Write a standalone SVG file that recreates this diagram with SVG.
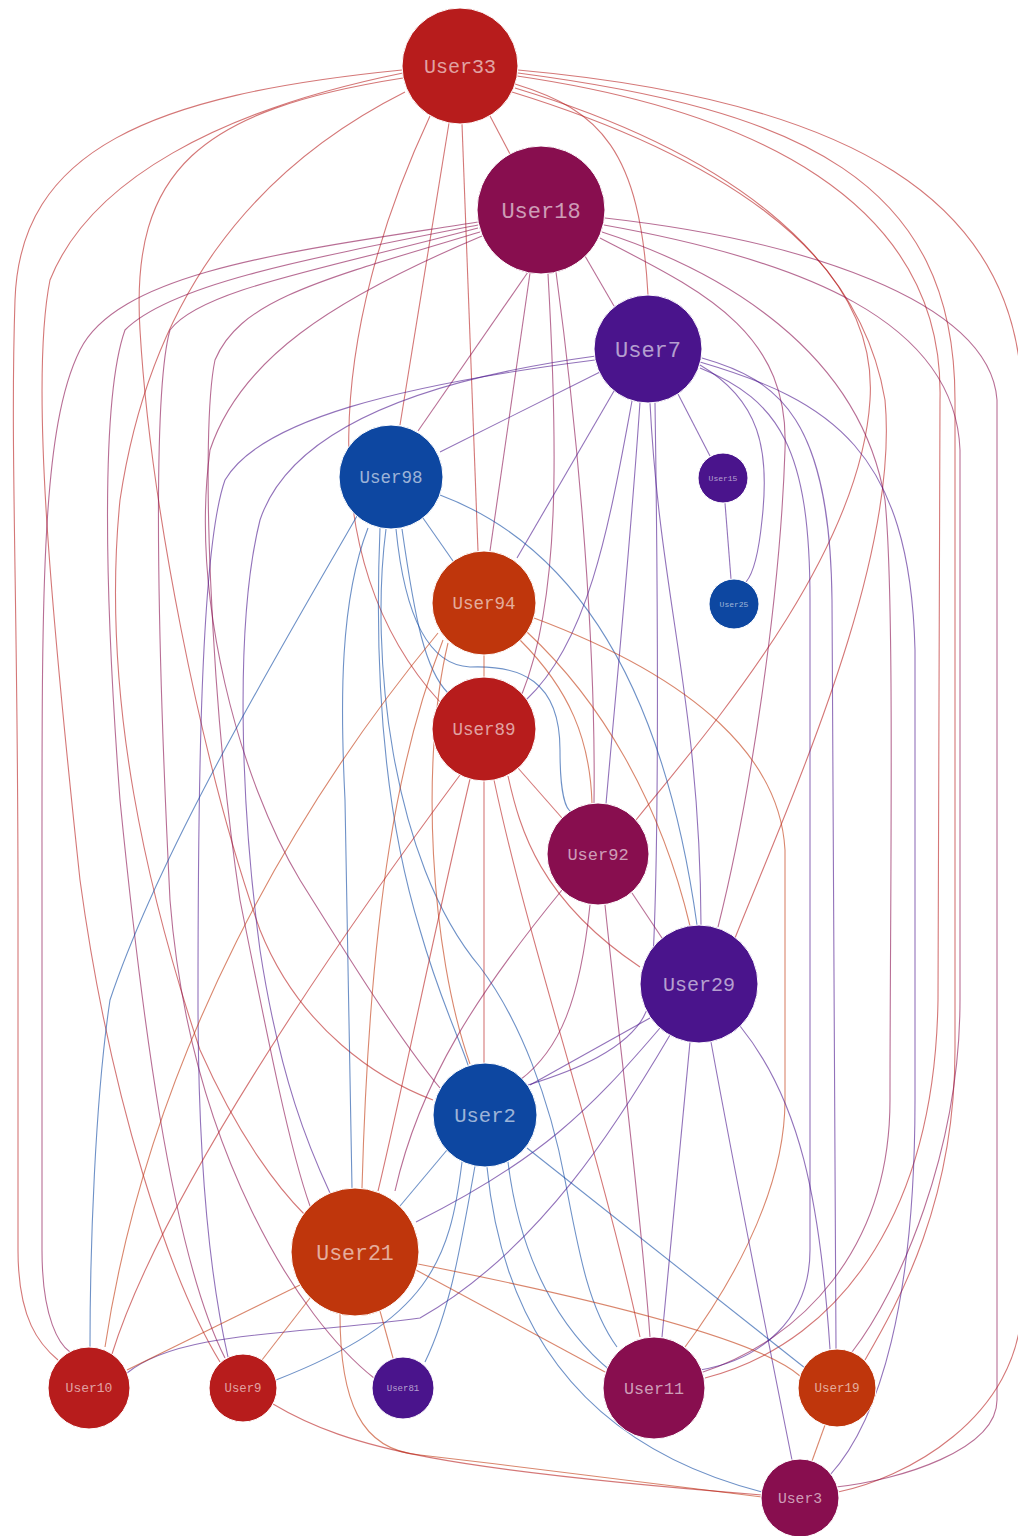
<svg xmlns="http://www.w3.org/2000/svg" width="1018" height="1536" viewBox="0 0 1018 1536">
<style>
  .e { fill: none; stroke-width: 1.1; stroke-opacity: 0.6; }
  .red { stroke: #b71c1c; }
  .mag { stroke: #880e4f; }
  .pur { stroke: #4a148c; }
  .blu { stroke: #0d47a1; }
  .ora { stroke: #bf360c; }
  .n circle { stroke: #ffffff; stroke-width: 1; }
  .n text { font-family: "Liberation Mono", "DejaVu Sans Mono", monospace; fill: #ffffff; fill-opacity: 0.6; text-anchor: middle; }
</style>
<rect width="1018" height="1536" fill="#ffffff"/>

<g id="edges">
  <!-- from User33 -->
  <path class="e red" d="M490,116 L510,154"/>
  <path class="e red" d="M515,84 C600,110 640,150 648,295"/>
  <path class="e red" d="M449,123 L400,425"/>
  <path class="e red" d="M462,124 L478,551"/>
  <path class="e red" d="M430,116 C330,330 310,560 440,702"/>
  <path class="e red" d="M403,78 C200,110 130,170 140,330 C150,500 200,760 260,930 C300,1030 380,1080 433,1100"/>
  <path class="e red" d="M405,92 C250,170 150,300 120,500 C100,700 150,900 200,1050 C240,1140 280,1190 305,1215"/>
  <path class="e red" d="M403,73 C220,110 90,180 50,280 C30,380 50,600 80,880 C110,1100 170,1280 220,1362"/>
  <path class="e red" d="M402,70 C150,95 20,150 15,300 C10,450 18,600 18,900 L18,1250 C18,1320 40,1345 58,1360"/>
  <path class="e red" d="M512,92 C700,150 880,250 870,400 C860,560 700,740 636,820"/>
  <path class="e red" d="M515,88 C720,150 860,250 885,400 C900,560 790,800 735,938"/>
  <path class="e red" d="M517,76 C750,110 945,200 940,400 L938,1000 C935,1200 850,1340 705,1378"/>
  <path class="e red" d="M518,73 C800,110 955,180 955,400 L955,1050 C955,1200 900,1300 865,1360"/>
  <path class="e red" d="M518,70 C850,100 1020,200 1022,400 L1022,1300 C1022,1420 900,1480 838,1492"/>

  <!-- from User18 -->
  <path class="e mag" d="M585,256 L614,306"/>
  <path class="e mag" d="M528,272 L418,431"/>
  <path class="e mag" d="M530,273 L490,551"/>
  <path class="e mag" d="M548,274 C558,450 560,600 522,694"/>
  <path class="e mag" d="M556,272 C580,450 596,650 594,803"/>
  <path class="e mag" d="M478,222 C300,250 120,270 80,350 C40,430 42,600 42,900 L42,1250 C42,1320 60,1345 70,1352"/>
  <path class="e mag" d="M478,225 C300,260 170,285 125,330 C100,400 105,600 120,800 C140,1000 170,1250 225,1358"/>
  <path class="e mag" d="M478,228 C320,270 200,290 170,330 C150,400 160,700 170,900 C190,1150 300,1320 374,1378"/>
  <path class="e mag" d="M480,232 C320,280 240,300 215,360 C200,430 210,700 240,900 C270,1050 290,1150 310,1206"/>
  <path class="e mag" d="M482,236 C330,300 240,360 210,450 C190,600 240,780 300,880 C350,960 400,1040 440,1088"/>
  <path class="e mag" d="M600,238 C700,290 790,330 785,450 C780,600 750,800 718,927"/>
  <path class="e mag" d="M602,232 C720,270 860,350 885,500 C895,600 890,900 890,1100 C890,1250 800,1340 703,1372"/>
  <path class="e mag" d="M604,225 C800,260 955,320 960,450 L960,1000 C960,1150 900,1290 852,1352"/>
  <path class="e mag" d="M605,218 C800,240 990,300 997,400 L997,1400 C997,1450 900,1480 836,1487"/>

  <!-- from User7 -->
  <path class="e pur" d="M600,372 L440,452"/>
  <path class="e pur" d="M614,391 L517,558"/>
  <path class="e pur" d="M632,401 C610,520 590,640 526,700"/>
  <path class="e pur" d="M640,402 C630,550 615,700 606,804"/>
  <path class="e pur" d="M678,394 L710,456"/>
  <path class="e pur" d="M700,365 C760,400 770,450 762,520 C758,560 752,575 746,582"/>
  <path class="e pur" d="M650,403 C660,600 700,700 701,925"/>
  <path class="e pur" d="M655,403 C658,600 660,900 650,1000 C640,1050 560,1075 528,1085"/>
  <path class="e pur" d="M700,368 C780,400 810,450 810,600 L810,1250 C810,1320 760,1360 700,1370"/>
  <path class="e pur" d="M702,358 C780,380 830,420 832,600 L836,1349"/>
  <path class="e pur" d="M700,362 C830,400 910,450 915,650 L915,1100 C915,1300 880,1420 830,1475"/>
  <path class="e pur" d="M596,356 C420,380 290,430 260,520 C235,620 240,800 260,950 C280,1080 310,1150 330,1193"/>
  <path class="e pur" d="M595,360 C400,385 260,420 225,480 C200,550 198,800 198,1000 C198,1200 215,1300 228,1357"/>

  <!-- from User98 -->
  <path class="e blu" d="M423,518 L453,561"/>
  <path class="e blu" d="M357,516 C280,650 160,850 110,1000 C95,1100 90,1250 90,1347"/>
  <path class="e blu" d="M368,528 C340,600 340,700 345,800 C348,1000 350,1100 352,1188"/>
  <path class="e blu" d="M380,528 C375,650 380,800 420,930 C440,1000 460,1040 468,1065"/>
  <path class="e blu" d="M402,529 C415,620 425,670 448,693"/>
  <path class="e blu" d="M396,529 C405,620 430,665 470,667 C520,665 560,680 560,750 C560,790 565,810 572,812"/>
  <path class="e blu" d="M386,529 C370,650 390,860 480,967 C520,1020 550,1100 565,1180 C580,1260 590,1310 617,1347"/>
  <path class="e blu" d="M440,495 C560,540 660,660 697,925"/>

  <!-- from User94 -->
  <path class="e ora" d="M484,655 L484,677"/>
  <path class="e ora" d="M438,633 C300,800 150,1050 105,1347"/>
  <path class="e ora" d="M443,640 C400,750 370,900 362,1188"/>
  <path class="e ora" d="M448,643 C420,760 430,950 470,1064"/>
  <path class="e ora" d="M520,640 C570,690 590,740 592,803"/>
  <path class="e ora" d="M527,632 C600,700 660,800 690,926"/>
  <path class="e ora" d="M534,618 C700,680 780,760 785,850 L785,1100 C785,1200 720,1300 685,1347"/>

  <!-- from User89 -->
  <path class="e red" d="M518,768 L562,818"/>
  <path class="e red" d="M508,776 C520,830 540,900 640,967"/>
  <path class="e red" d="M484,781 L484,1063"/>
  <path class="e red" d="M470,779 C430,950 400,1100 378,1191"/>
  <path class="e red" d="M494,780 C530,950 600,1150 640,1337"/>
  <path class="e red" d="M460,775 C330,950 160,1200 112,1354"/>

  <!-- from User92 -->
  <path class="e mag" d="M632,893 L662,938"/>
  <path class="e mag" d="M562,890 C480,990 420,1080 395,1191"/>
  <path class="e mag" d="M590,905 C580,1000 560,1050 520,1080"/>
  <path class="e mag" d="M605,905 C620,1050 640,1200 650,1337"/>

  <!-- from User29 -->
  <path class="e pur" d="M650,1018 L530,1085"/>
  <path class="e pur" d="M660,1028 C590,1110 540,1160 416,1222"/>
  <path class="e pur" d="M670,1035 C620,1120 540,1250 420,1318 C300,1335 180,1330 127,1373"/>
  <path class="e pur" d="M690,1042 L662,1337"/>
  <path class="e pur" d="M740,1026 C800,1100 820,1200 830,1349"/>
  <path class="e pur" d="M711,1042 C740,1200 770,1350 792,1460"/>

  <!-- from User2 -->
  <path class="e blu" d="M447,1150 L400,1206"/>
  <path class="e blu" d="M462,1162 C450,1260 430,1320 276,1380"/>
  <path class="e blu" d="M475,1166 C460,1250 450,1310 425,1362"/>
  <path class="e blu" d="M508,1162 C520,1260 560,1330 612,1372"/>
  <path class="e blu" d="M527,1148 L805,1368"/>
  <path class="e blu" d="M487,1167 C500,1300 560,1440 762,1492"/>

  <!-- from User21 -->
  <path class="e ora" d="M300,1285 L127,1370"/>
  <path class="e ora" d="M310,1298 L262,1360"/>
  <path class="e ora" d="M380,1311 L393,1358"/>
  <path class="e ora" d="M416,1270 L605,1372"/>
  <path class="e ora" d="M418,1264 C600,1300 760,1340 800,1376"/>
  <path class="e ora" d="M340,1314 C340,1400 360,1450 420,1455 C550,1470 700,1490 762,1497"/>

  <!-- remaining short links -->
  <path class="e red" d="M273,1404 C350,1450 450,1470 762,1495"/>
  <path class="e pur" d="M725,503 L731,579"/>
  <path class="e ora" d="M825,1425 L812,1461"/>
</g>

<g id="User33" class="n"><circle cx="460" cy="66" r="58" fill="#b71c1c"/><text x="460" y="73" font-size="20">User33</text></g>
<g id="User18" class="n"><circle cx="541" cy="210" r="64" fill="#880e4f"/><text x="541" y="218" font-size="22">User18</text></g>
<g id="User7" class="n"><circle cx="648" cy="349" r="54" fill="#4a148c"/><text x="648" y="357" font-size="22">User7</text></g>
<g id="User98" class="n"><circle cx="391" cy="477" r="52" fill="#0d47a1"/><text x="391" y="483" font-size="17.5">User98</text></g>
<g id="User15" class="n"><circle cx="723" cy="478" r="25" fill="#4a148c"/><text x="723" y="481" font-size="8">User15</text></g>
<g id="User25" class="n"><circle cx="734" cy="604" r="25" fill="#0d47a1"/><text x="734" y="607" font-size="8">User25</text></g>
<g id="User94" class="n"><circle cx="484" cy="603" r="52" fill="#bf360c"/><text x="484" y="609" font-size="17.5">User94</text></g>
<g id="User89" class="n"><circle cx="484" cy="729" r="52" fill="#b71c1c"/><text x="484" y="735" font-size="17.5">User89</text></g>
<g id="User92" class="n"><circle cx="598" cy="854" r="51" fill="#880e4f"/><text x="598" y="860" font-size="17">User92</text></g>
<g id="User29" class="n"><circle cx="699" cy="984" r="59" fill="#4a148c"/><text x="699" y="991" font-size="20">User29</text></g>
<g id="User2" class="n"><circle cx="485" cy="1115" r="52" fill="#0d47a1"/><text x="485" y="1122" font-size="20.5">User2</text></g>
<g id="User21" class="n"><circle cx="355" cy="1252" r="64" fill="#bf360c"/><text x="355" y="1260" font-size="21.5">User21</text></g>
<g id="User10" class="n"><circle cx="89" cy="1388" r="41" fill="#b71c1c"/><text x="89" y="1392" font-size="13">User10</text></g>
<g id="User9" class="n"><circle cx="243" cy="1388" r="34" fill="#b71c1c"/><text x="243" y="1392" font-size="12.3">User9</text></g>
<g id="User81" class="n"><circle cx="403" cy="1388" r="31" fill="#4a148c"/><text x="403" y="1391" font-size="9">User81</text></g>
<g id="User11" class="n"><circle cx="654" cy="1388" r="51" fill="#880e4f"/><text x="654" y="1394" font-size="16.7">User11</text></g>
<g id="User19" class="n"><circle cx="837" cy="1388" r="39" fill="#bf360c"/><text x="837" y="1392" font-size="12.5">User19</text></g>
<g id="User3" class="n"><circle cx="800" cy="1498" r="39" fill="#880e4f"/><text x="800" y="1503" font-size="14.7">User3</text></g>
</svg>
